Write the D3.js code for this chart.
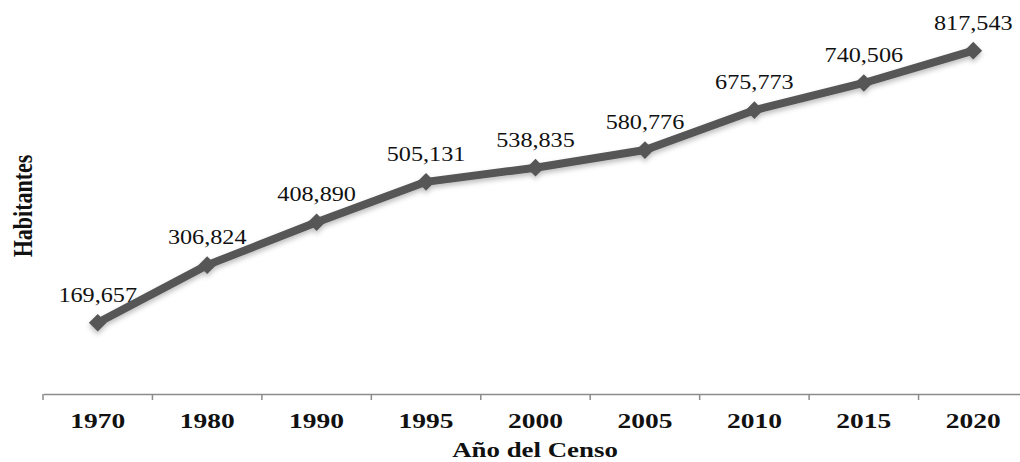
<!DOCTYPE html>
<html>
<head>
<meta charset="utf-8">
<script src="https://cdn.jsdelivr.net/npm/d3@7/dist/d3.min.js"></script>
<style>
  html, body { margin: 0; padding: 0; background: #fff; }
  svg { display: block; }
  text { font-family: "Liberation Serif", "Times New Roman", serif; fill: #111; }
</style>
</head>
<body>
<div id="container"></div>
<script>
// census population line chart

const years = ["1970", "1980", "1990", "1995", "2000", "2005", "2010", "2015", "2020"];
const habitantes = [169657, 306824, 408890, 505131, 538835, 580776, 675773, 740506, 817543];
const yDomain = [0, 900000];

const width = 1020,
      height = 462;

const margin = { left: 43, right: -8, top: 16, bottom: 68 };

const svg = d3.select("#container").append("svg")
    .attr("width", width)
    .attr("height", height);

const defs = svg.append("defs");
const shadow = defs.append("filter")
    .attr("id", "shadow")
    .attr("x", "-20%").attr("y", "-20%")
    .attr("width", "140%").attr("height", "160%");
shadow.append("feDropShadow")
    .attr("dx", 0).attr("dy", 3)
    .attr("stdDeviation", 2.5)
    .attr("flood-color", "#000")
    .attr("flood-opacity", 0.25);

const x = d3.scaleBand()
    .domain(years)
    .range([margin.left, width - margin.right]);

const y = d3.scaleLinear()
    .domain(yDomain)
    .range([height - margin.bottom, margin.top]);

const data = years.map((yr, i) => ({ year: yr, value: habitantes[i] }));
const cx = d => x(d.year) + x.bandwidth() / 2;

// x axis
const xAxis = d3.axisBottom(x)
    .tickSize(0)
    .tickFormat("");

const axisG = svg.append("g")
    .attr("transform", "translate(0," + y(0) + ")")
    .call(xAxis);
axisG.select(".domain")
    .attr("stroke", "#8c8c8c")
    .attr("stroke-width", 1.5);

// band boundary ticks
axisG.selectAll("line.band-tick")
    .data(years)
    .enter()
    .append("line")
    .classed("band-tick", true)
    .attr("x1", d => x(d))
    .attr("x2", d => x(d))
    .attr("y1", 0)
    .attr("y2", 6)
    .attr("stroke", "#8c8c8c")
    .attr("stroke-width", 1.5);

axisG.selectAll("text.year")
    .data(years)
    .enter()
    .append("text")
    .classed("year", true)
    .attr("transform", d => "translate(" + (x(d) + x.bandwidth() / 2) + ",34) scale(1.25,1)")
    .attr("text-anchor", "middle")
    .style("font-size", "22px")
    .style("font-weight", "bold")
    .text(d => d);

svg.append("text")
    .attr("transform", "translate(535,457) scale(1.28,1)")
    .attr("text-anchor", "middle")
    .style("font-size", "21px")
    .style("font-weight", "bold")
    .text("Año del Censo");

svg.append("text")
    .attr("transform", "translate(32,206) rotate(-90) scale(1,1.25)")
    .attr("text-anchor", "middle")
    .style("font-size", "22px")
    .style("font-weight", "bold")
    .text("Habitantes");

// line
const line = d3.line()
    .x(cx)
    .y(d => y(d.value));

const plot = svg.append("g").attr("filter", "url(#shadow)");

plot.append("path")
    .datum(data)
    .attr("d", line)
    .attr("fill", "none")
    .attr("stroke", "#575757")
    .attr("stroke-width", 8)
    .attr("stroke-linejoin", "round");

plot.selectAll("path.marker")
    .data(data)
    .enter()
    .append("path")
    .classed("marker", true)
    .attr("d", d3.symbol().type(d3.symbolDiamond2 || d3.symbolSquare2).size(200))
    .attr("transform", d => "translate(" + cx(d) + "," + y(d.value) + ") rotate(0)")
    .attr("fill", "#575757");

// value labels
svg.selectAll("text.val")
    .data(data)
    .enter()
    .append("text")
    .classed("val", true)
    .attr("transform", d => "translate(" + cx(d) + "," + (y(d.value) - 21) + ") scale(1.1,1)")
    .attr("text-anchor", "middle")
    .style("font-size", "22px")
    .text(d => d3.format(",")(d.value));
</script>
</body>
</html>
